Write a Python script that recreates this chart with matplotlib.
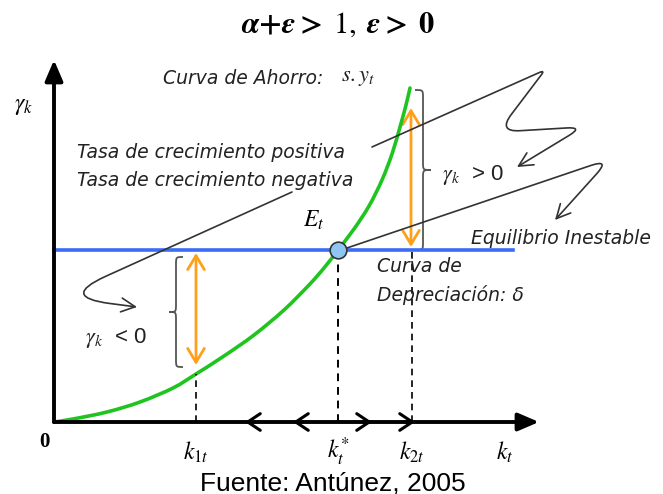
import numpy as np
import matplotlib
matplotlib.use('Agg')
import matplotlib.pyplot as plt
from matplotlib.path import Path
from matplotlib.patches import FancyArrowPatch, PathPatch

plt.rcParams['mathtext.fontset'] = 'stix'

# Curva de ahorro s.y_t (capital k_t contra gamma_k)
k_ahorro = [0, 19, 53, 86, 119, 142, 170, 200, 230, 255, 270, 284, 300, 315, 328, 338, 346, 352, 356]
y_ahorro = [0, 3, 10, 20, 34, 48, 66, 87, 112, 137, 154, 172, 193, 216, 242, 268, 295, 317, 334]

# Curva de depreciación (horizontal)
delta = 172
k_dep = [0, 459]

# Puntos sobre el eje de capital
k1t, k_star, k2t = 142, 284, 358
k_marcas = [k1t, k_star, k2t, 451]
etiquetas_k = [r'$k_{1t}$', r'$k_t^{*}$', r'$k_{2t}$', r'$k_t$']

# Flechas de dirección sobre el eje
flechas_izq = [191, 239]
flechas_der = [318, 361]

verde = '#1fc41f'
azul = '#3a6cf5'
naranja = '#ffa01c'
gris = '#333333'
texto = '#222222'


def curva_suave(xs, ys):
    P = np.column_stack([xs, ys]).astype(float)
    verts = [P[0]]
    codes = [Path.MOVETO]
    n = len(P)
    for i in range(n - 1):
        p0 = P[max(i - 1, 0)]
        p1, p2 = P[i], P[i + 1]
        p3 = P[min(i + 2, n - 1)]
        verts += [p1 + (p2 - p0) / 6, p2 - (p3 - p1) / 6, p2]
        codes += [Path.CURVE4] * 3
    return Path(verts, codes)


def camino_redondeado(puntos, radios):
    verts = [puntos[0]]
    codes = [Path.MOVETO]
    for i in range(1, len(puntos) - 1):
        p0, p1, p2 = (np.array(p, float) for p in puntos[i - 1:i + 2])
        d1 = (p1 - p0) / np.linalg.norm(p1 - p0)
        d2 = (p2 - p1) / np.linalg.norm(p2 - p1)
        r = radios[i - 1]
        verts += [p1 - d1 * r, p1, p1 + d2 * r]
        codes += [Path.LINETO, Path.CURVE3, Path.CURVE3]
    verts.append(puntos[-1])
    codes.append(Path.LINETO)
    return Path(verts, codes)


def llave(x, y0, y1, w, c=8):
    ym = (y0 + y1) / 2
    h = w / 2
    verts = [(x, y1), (x + h, y1), (x + h, y1), (x + h, y1 - c),
             (x + h, ym + c),
             (x + h, ym), (x + h, ym), (x + w, ym),
             (x + h, ym), (x + h, ym), (x + h, ym - c),
             (x + h, y0 + c),
             (x + h, y0), (x + h, y0), (x, y0)]
    codes = [Path.MOVETO, Path.CURVE4, Path.CURVE4, Path.CURVE4,
             Path.LINETO,
             Path.CURVE4, Path.CURVE4, Path.CURVE4,
             Path.CURVE4, Path.CURVE4, Path.CURVE4,
             Path.LINETO,
             Path.CURVE4, Path.CURVE4, Path.CURVE4]
    return Path(verts, codes)


fig = plt.figure(figsize=(6.63, 4.94), dpi=100)
ax = fig.add_axes([0, 0, 1, 1])
ax.set_xlim(-54, 609)
ax.set_ylim(-72, 422)
ax.axis('off')

# ejes
for ini, fin in [((0, 0), (0, 362)), ((0, 0), (485, 0))]:
    ax.add_patch(FancyArrowPatch(ini, fin, arrowstyle='-|>,head_length=0.7,head_width=0.3',
                                 mutation_scale=18, lw=2.8, color='k',
                                 shrinkA=0, shrinkB=0, zorder=3))
for kx in flechas_izq:
    ax.add_patch(FancyArrowPatch((kx + 10, 0), (kx, 0), arrowstyle='->,head_length=0.45,head_width=0.3',
                                 mutation_scale=20, lw=2.2, color='k', shrinkA=0, shrinkB=0, zorder=3))
for kx in flechas_der:
    ax.add_patch(FancyArrowPatch((kx - 10, 0), (kx, 0), arrowstyle='->,head_length=0.45,head_width=0.3',
                                 mutation_scale=20, lw=2.2, color='k', shrinkA=0, shrinkB=0, zorder=3))

# curvas
ax.plot(k_dep, [delta, delta], color=azul, lw=2.6, zorder=2)
ax.add_patch(PathPatch(curva_suave(k_ahorro, y_ahorro), fill=False, color=verde, lw=2.6,
                       capstyle='round', zorder=2))

# líneas punteadas
y_k1 = np.interp(k1t, k_ahorro, y_ahorro)
ax.plot([k1t, k1t], [0, y_k1], color='k', lw=1.2, ls=(0, (4, 3)))
ax.plot([k_star, k_star], [0, delta], color='k', lw=1.4, ls=(0, (4, 3)))
ax.plot([k2t, k2t], [0, delta], color='k', lw=1.2, ls=(0, (4, 3)))

# flechas naranjas
ax.add_patch(FancyArrowPatch((357, delta + 3), (357, 314), arrowstyle='<->,head_length=0.5,head_width=0.3',
                             mutation_scale=20, lw=2, color=naranja, shrinkA=0, shrinkB=0))
ax.add_patch(FancyArrowPatch((k1t, delta - 3), (k1t, y_k1 + 9), arrowstyle='<->,head_length=0.5,head_width=0.3',
                             mutation_scale=20, lw=2, color=naranja, shrinkA=0, shrinkB=0))

# llaves
ax.add_patch(PathPatch(llave(361, 172, 332, 16), fill=False, color='#555555', lw=1.3))
ax.add_patch(PathPatch(llave(129, 55, 165, -14), fill=False, color='#555555', lw=1.3))

# líneas de anotación
estilo = '->,head_length=0.5,head_width=0.25'
p1 = camino_redondeado([(318, 275), (491, 352), (444, 290), (529, 295), (463, 255)], [6, 22, 16])
p2 = camino_redondeado([(287, 172), (556, 263), (501, 202)], [20])
p3 = camino_redondeado([(238, 230), (6, 125), (83, 115)], [50])
for p in (p1, p2, p3):
    ax.add_patch(FancyArrowPatch(path=p, arrowstyle=estilo, mutation_scale=20, lw=1.2,
                                 color=gris, shrinkA=0, shrinkB=0, zorder=4))

# equilibrio
ax.plot(k_star, delta, 'o', ms=12, mfc='#8ec5f2', mec='#333333', mew=1.2, zorder=5)

# textos
titulo = (r'$\mathbfit{\alpha}\mathbf{+}\mathbfit{\varepsilon}\mathbf{>}\;\mathrm{1},'
          r'\;\mathbfit{\varepsilon}\mathbf{>}\;\mathbf{0}$')
ax.text(284, 397, titulo, ha='center', va='center', fontsize=22)
cursiva = dict(family='DejaVu Sans', style='italic', va='center', color=texto, fontsize=13.5)
ax.text(109, 344, 'Curva de Ahorro:', **cursiva)
ax.text(287, 344, r'$s.y_t$', fontsize=16, va='center', color=texto)
ax.text(23, 270, 'Tasa de crecimiento positiva', **cursiva)
ax.text(23, 242, 'Tasa de crecimiento negativa', **cursiva)
ax.text(417, 184, 'Equilibrio Inestable', **cursiva)
ax.text(323, 155, 'Curva de', **cursiva)
ax.text(323, 127, 'Depreciación: δ', **cursiva)
ax.text(260, 202, r'$E_t$', fontsize=17, ha='center', va='center')
ax.text(388, 247, r'$\gamma_k$  > 0', fontsize=16, family='Liberation Sans', va='center', color=texto)
ax.text(31, 84, r'$\gamma_k$  < 0', fontsize=16, family='Liberation Sans', va='center', color=texto)
ax.text(-30, 317, r'$\gamma_k$', fontsize=17, ha='center', va='center')
ax.text(-10, -20, '0', fontsize=15, family='Liberation Serif', fontweight='bold', ha='center', va='center')
for kx, et in zip(k_marcas, etiquetas_k):
    ax.text(kx, -30, et, fontsize=17, ha='center', va='center')
ax.text(279, -61, 'Fuente: Antúnez, 2005', fontsize=19, family='Liberation Sans', ha='center', va='center')

fig.savefig('out.png', dpi=100)
